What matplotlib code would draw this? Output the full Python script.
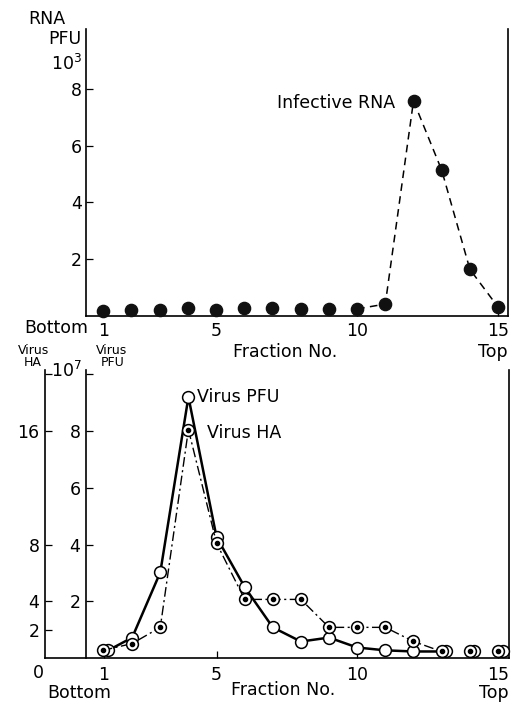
import matplotlib
matplotlib.use('Agg')
import matplotlib.pyplot as plt

# Fractions (bottom -> top of gradient)
fractions = list(range(1, 16))

# Infective RNA, PFU x10^3
rna_pfu = [0.18, 0.22, 0.20, 0.27, 0.22, 0.27, 0.27, 0.25, 0.25, 0.25, 0.42, 7.57, 5.13, 1.64, 0.31]
rna_line_from = 9  # index of fraction 10, the dashed line starts here

# Virus PFU x10^7 (open circles are drawn a bit to the right where they overlap)
pfu_x = [1.15, 2, 3, 4, 5, 6, 7, 8, 9, 10, 11, 12, 13.15, 14.15, 15.2]
virus_pfu = [0.27, 0.72, 3.02, 9.2, 4.26, 2.5, 1.08, 0.58, 0.72, 0.37, 0.27, 0.23, 0.23, 0.23, 0.23]

# Virus HA
ha_x = [0.95, 2, 3, 4, 5, 6, 7, 8, 9, 10, 11, 12, 13, 14, 15]
virus_ha = [0.53, 1.02, 2.16, 16.1, 8.1, 4.13, 4.13, 4.13, 2.16, 2.16, 2.16, 1.17, 0.46, 0.46, 0.46]
line_end = 13  # lines stop at fraction 13, 14 and 15 are loose points

xticks = [1, 5, 10, 15]
rna_yticks = [2, 4, 6, 8]
pfu_yticks = [2, 4, 6, 8, 10]
pfu_yticklabels = ['2', '4', '6', '8', '']
ha_yticks = [2, 4, 8, 16, 20]
ha_yticklabels = ['2', '4', '8', '16', '']

plt.rcParams['font.family'] = 'DejaVu Sans'
fs = 12.5

W, H = 514, 707
fig = plt.figure(figsize=(W / 100, H / 100), dpi=100)


def box(x0, y0, x1, y1):
    return [x0 / W, 1 - y1 / H, (x1 - x0) / W, (y1 - y0) / H]


def ptext(x, y, s, **kw):
    fig.text(x / W, 1 - y / H, s, va='center', fontsize=kw.pop('fontsize', fs), **kw)


# ---------- top panel: infective RNA ----------
ax1 = fig.add_axes(box(86, 29, 508, 316))
ax1.set_xlim(0.39, 15.35)
ax1.set_ylim(0, 10.1)
ax1.spines['top'].set_visible(False)
for s in ['left', 'right', 'bottom']:
    ax1.spines[s].set_linewidth(1.2)
ax1.plot(fractions, rna_pfu, 'o', color='#111111', ms=8.8, zorder=3, clip_on=False)
ax1.plot(fractions[rna_line_from:], rna_pfu[rna_line_from:], '--', color='black',
         lw=1.1, dashes=(5, 3.5), zorder=2)
ax1.set_xticks(xticks)
ax1.set_yticks(rna_yticks)
ax1.tick_params(direction='in', length=5, width=0.9, labelsize=fs)
ax1.tick_params(axis='y', pad=3)
ax1.tick_params(axis='x', pad=4)
ax1.tick_params(axis='y', right=False)

ptext(65, 19, 'RNA', ha='right')
ptext(81, 39, 'PFU', ha='right')
ptext(82, 64, '10$^3$', ha='right')
ptext(88, 328, 'Bottom', ha='right')
ptext(285, 352, 'Fraction No.', ha='center')
ptext(508, 352, 'Top', ha='right')
ptext(395, 103, 'Infective RNA', ha='right')

# ---------- bottom panel: virus PFU and HA ----------
ax2 = fig.add_axes(box(45, 370, 509, 658))
ax2.set_xlim(-1.1, 15.4)
ax2.set_ylim(0, 10.15)
ax2.spines['top'].set_visible(False)
ax2.spines['left'].set_position(('data', 0.36))
for s in ['left', 'right', 'bottom']:
    ax2.spines[s].set_linewidth(1.2)
ax2.set_xticks(xticks)
ax2.set_yticks(pfu_yticks)
ax2.set_yticklabels(pfu_yticklabels)
ax2.tick_params(direction='in', length=5, width=0.9, labelsize=fs)
ax2.tick_params(axis='y', pad=4)
ax2.tick_params(axis='x', pad=6)

ax3 = ax2.twinx()
ax3.set_ylim(0, 20.3)
ax3.spines['top'].set_visible(False)
ax3.spines['right'].set_visible(False)
ax3.spines['bottom'].set_visible(False)
ax3.spines['left'].set_visible(True)
ax3.spines['left'].set_linewidth(1.2)
ax3.yaxis.set_ticks_position('left')
ax3.yaxis.set_label_position('left')
ax3.set_yticks(ha_yticks)
ax3.set_yticklabels(ha_yticklabels)
ax3.tick_params(direction='in', length=5, width=0.9, labelsize=fs, pad=4)

# Virus PFU: open circles, solid line
ax2.plot(pfu_x[:line_end], virus_pfu[:line_end], '-', color='black', lw=1.8, zorder=2)
ax2.plot(pfu_x, virus_pfu, 'o', mfc='white', mec='black', mew=1.1, ms=8.5, zorder=3,
         clip_on=False)

# Virus HA: dotted circles, dash-dot line
ax3.plot(ha_x[:line_end], virus_ha[:line_end], color='black', lw=1.0,
         dashes=(7, 2.5, 1.5, 2.5), zorder=2)
ax3.plot(ha_x, virus_ha, 'o', mfc='white', mec='black', mew=1.1, ms=8.5, zorder=3,
         clip_on=False)
ax3.plot(ha_x, virus_ha, 'o', color='black', ms=3, zorder=4, clip_on=False)

ptext(34, 350, 'Virus', ha='center', fontsize=9)
ptext(33, 363, 'HA', ha='center', fontsize=9)
ptext(112, 350, 'Virus', ha='center', fontsize=9)
ptext(113, 363, 'PFU', ha='center', fontsize=9)
ptext(66, 371, '10$^7$', ha='center')
ptext(38, 673, '0', ha='center')
ptext(79, 693, 'Bottom', ha='center')
ptext(283, 690, 'Fraction No.', ha='center')
ptext(509, 693, 'Top', ha='right')
ptext(197, 397, 'Virus PFU', ha='left')
ptext(207, 433, 'Virus HA', ha='left')

fig.savefig('out.png', dpi=100)
